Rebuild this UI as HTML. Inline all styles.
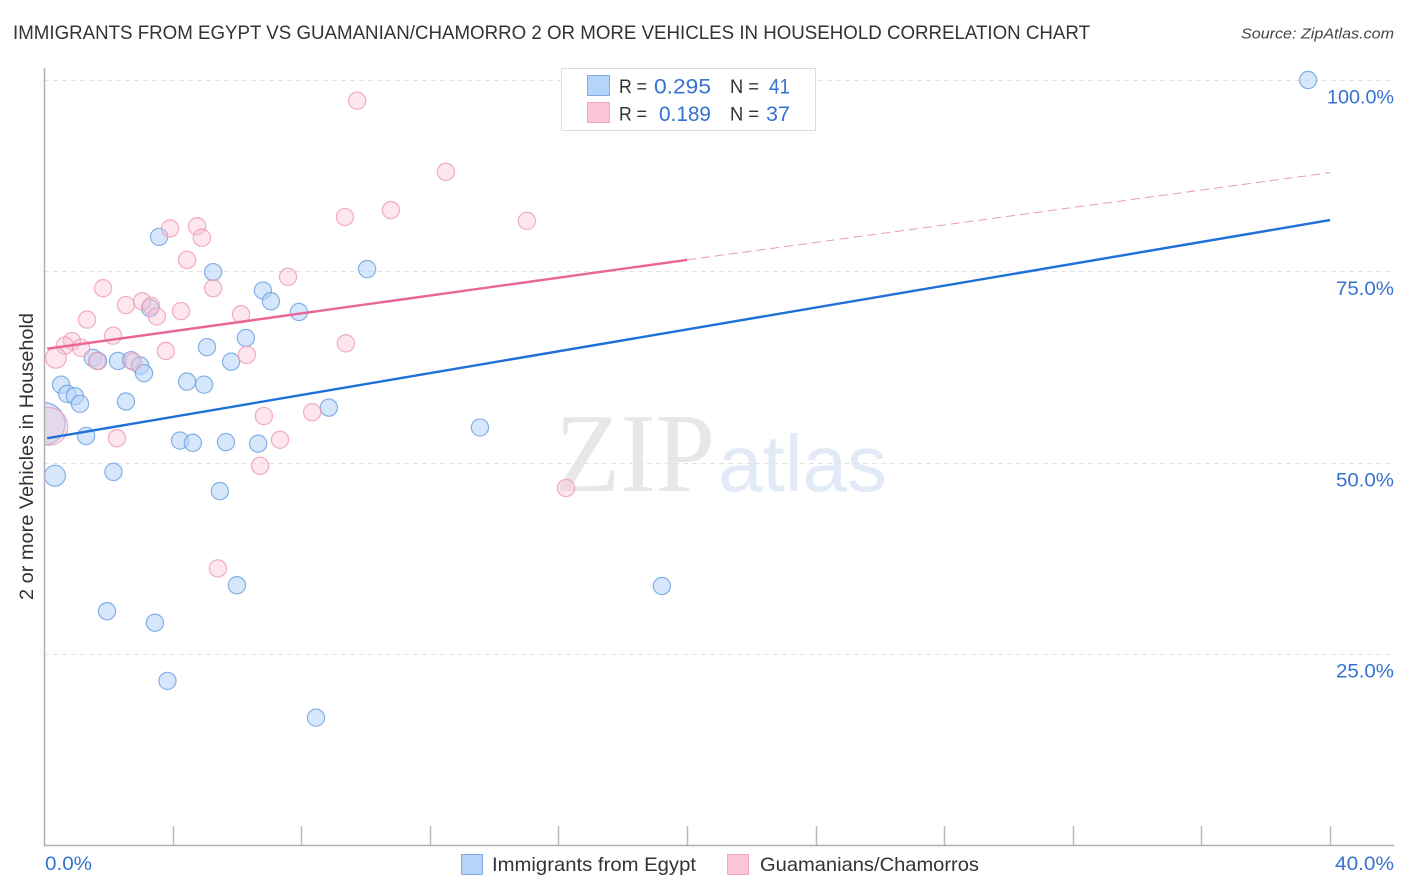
<!DOCTYPE html>
<html>
<head>
<meta charset="utf-8">
<title>Immigrants from Egypt vs Guamanian/Chamorro correlation chart</title>
<style>
html,body{margin:0;padding:0;background:#fff;}
svg{display:block;font-family:"Liberation Sans",sans-serif;}
</style>
</head>
<body>
<svg id="chart" width="1406" height="892" viewBox="0 0 1406 892">
  <defs><clipPath id="plot-clip"><rect x="44" y="60" width="1350" height="785"/></clipPath></defs>
  <text x="13" y="39" font-size="19.5" fill="#333" textLength="1077" lengthAdjust="spacingAndGlyphs">IMMIGRANTS FROM EGYPT VS GUAMANIAN/CHAMORRO 2 OR MORE VEHICLES IN HOUSEHOLD CORRELATION CHART</text>
  <text x="1241" y="38.5" font-size="15" font-style="italic" fill="#444" textLength="153" lengthAdjust="spacingAndGlyphs">Source: ZipAtlas.com</text>
  <g>
    <text x="555" y="491" font-size="112" fill="#e7e7e7" font-family="'Liberation Serif',serif" textLength="160" lengthAdjust="spacingAndGlyphs">ZIP</text>
    <text x="718" y="491" font-size="80" fill="#e2eaf8" textLength="169" lengthAdjust="spacingAndGlyphs">atlas</text>
  </g>
  <g id="grid"></g>
  <g id="points" clip-path="url(#plot-clip)"></g>
  <rect x="0" y="60" width="44" height="800" fill="#fff"/>
  <g id="axes"></g>
  <g id="trends"></g>
  <g id="labels"></g>
  <text transform="translate(33,456.5) rotate(-90)" text-anchor="middle" font-size="19" fill="#333" textLength="287" lengthAdjust="spacingAndGlyphs">2 or more Vehicles in Household</text>

  <g>
    <rect x="561.5" y="68.5" width="254" height="62" fill="#fff" stroke="#dcdcdc"/>
    <rect x="587.5" y="75.5" width="22" height="20" fill="#b5d4fa" stroke="#80abe0"/>
    <rect x="587.5" y="102.5" width="22" height="20" fill="#fcc5d6" stroke="#f2a9c0"/>
    <g font-size="19.5" fill="#333">
      <text x="619" y="93" textLength="28" lengthAdjust="spacingAndGlyphs">R =</text>
      <text x="730" y="93" textLength="29" lengthAdjust="spacingAndGlyphs">N =</text>
      <text x="619" y="120.5" textLength="28" lengthAdjust="spacingAndGlyphs">R =</text>
      <text x="730" y="120.5" textLength="29" lengthAdjust="spacingAndGlyphs">N =</text>
    </g>
    <g font-size="21.5" fill="#3572d2">
      <text x="654" y="93.5" textLength="57" lengthAdjust="spacingAndGlyphs">0.295</text>
      <text x="769" y="93.5" textLength="21" lengthAdjust="spacingAndGlyphs">41</text>
      <text x="659" y="121" textLength="52" lengthAdjust="spacingAndGlyphs">0.189</text>
      <text x="766" y="121" textLength="24" lengthAdjust="spacingAndGlyphs">37</text>
    </g>
  </g>

  <g>
    <g>
      <rect x="461.5" y="854.5" width="21" height="20" fill="#b5d4fa" stroke="#80abe0"/>
      <text x="492" y="871" font-size="19.5" fill="#333" textLength="204" lengthAdjust="spacingAndGlyphs">Immigrants from Egypt</text>
    </g>
    <g>
      <rect x="727.5" y="854.5" width="21" height="20" fill="#fcc5d6" stroke="#f2a9c0"/>
      <text x="760" y="871" font-size="19.5" fill="#333" textLength="219" lengthAdjust="spacingAndGlyphs">Guamanians/Chamorros</text>
    </g>
  </g>
</svg>
<script>
// Chart data (percent values)
var egyptX = [39.32,3.58,5.26,10.05,6.81,7.06,7.93,3.30,6.28,5.07,5.82,1.52,1.68,2.30,2.71,2.99,3.11,4.45,4.98,0.53,0.72,0.96,1.12,2.55,8.86,13.56,1.31,4.23,4.63,5.66,6.66,2.16,0.34,5.47,6.00,19.22,1.96,3.45,3.84,8.46,0.00];
var egyptY = [100,79.5,74.9,75.3,72.5,71.1,69.7,70.2,66.3,65.1,63.2,63.7,63.3,63.3,63.4,62.7,61.7,60.6,60.2,60.2,59.0,58.7,57.7,58.0,57.2,54.6,53.5,52.9,52.6,52.7,52.5,48.8,48.3,46.3,34.0,33.9,30.6,29.1,21.5,16.7,55.1];
var egyptWeight = [1,1,1,1,1,1,1,1,1,1,1,1,1,1,1,1,1,1,1,1,1,1,1,1,1,1,1,1,1,1,1,1,1.22,1,1,1,1,1,1,1,2.45];
var guamX = [9.74,12.50,10.79,9.36,15.02,3.92,4.76,4.91,4.45,7.59,1.84,5.26,2.55,3.05,3.33,3.51,4.26,6.13,1.34,2.15,9.39,0.87,0.65,1.15,0.37,3.79,6.31,1.65,2.77,6.84,8.34,2.27,7.34,6.72,16.24,5.41,0.15];
var guamY = [97.3,88.0,83.0,82.1,81.6,80.6,80.9,79.4,76.5,74.3,72.8,72.8,70.6,71.1,70.5,69.1,69.8,69.4,68.7,66.6,65.6,65.9,65.3,65.0,63.7,64.6,64.1,63.3,63.2,56.1,56.6,53.2,53.0,49.6,46.7,36.2,54.75];
var guamWeight = [1,1,1,1,1,1,1,1,1,1,1,1,1,1,1,1,1,1,1,1,1,1,1,1,1.2,1,1,1,1,1,1,1,1,1,1,1,2.2];
var egyptTrendX = [0.1,40];
var egyptTrendY = [53.2,81.7];
var guamTrendX = [0.1,20];
var guamTrendY = [64.9,76.5];
var guamDashX = [20,40];
var guamDashY = [76.5,87.9];
var yTicks = [25,50,75,100];
var yTickLabels = ["25.0%","50.0%","75.0%","100.0%"];
var xTicks = [0,4,8,12,16,20,24,28,32,36,40];
var xEndTicks = [0,40];
var xEndLabels = ["0.0%","40.0%"];

var NS = "http://www.w3.org/2000/svg";
function xScale(v){ return 44 + (v / 40) * 1286; }
function yScale(v){ return 845.5 - (v / 100) * 765.5; }
function make(tag, parent, attrs){
  var el = document.createElementNS(NS, tag);
  for (var k in attrs) el.setAttribute(k, attrs[k]);
  parent.appendChild(el);
  return el;
}
var grid = document.getElementById("grid");
var axes = document.getElementById("axes");
var points = document.getElementById("points");
var trends = document.getElementById("trends");
var labels = document.getElementById("labels");
var labelColor = "#3572d2";

yTicks.forEach(function(t, i){
  var y = Math.round(yScale(t)) + 0.5;
  var line = make("line", grid, {x1:44, x2:1394, y1:y, y2:y, stroke:"#e2e2e2", "stroke-width":1, "stroke-dasharray":"5 4"});
  
  
  var lab = make("text", labels, {x:1394, y:yScale(t) + 23.5, "text-anchor":"end", "font-size":19.5, fill:labelColor, textLength:(t === 100 ? 67 : 58), lengthAdjust:"spacingAndGlyphs"});
  lab.textContent = yTickLabels[i];
  
  
});

var yAxis = make("line", axes, {x1:44.5, x2:44.5, y1:68, y2:846, stroke:"#b0b0b0", "stroke-width":1.5});


var xAxis = make("line", axes, {x1:44, x2:1394, y1:845.5, y2:845.5, stroke:"#b0b0b0", "stroke-width":1.5});


xTicks.forEach(function(t){
  if (t === 0) return;
  var x = Math.round(xScale(t)) + 0.5;
  var tick = make("line", axes, {x1:x, x2:x, y1:826, y2:845, stroke:"#b8b8b8", "stroke-width":1.5});
  
  
});
xEndTicks.forEach(function(t, i){
  var lab = make("text", labels, i === 0
    ? {x:xScale(t) + 1, y:870, "font-size":19.5, fill:labelColor, textLength:47, lengthAdjust:"spacingAndGlyphs"}
    : {x:1394, y:870, "text-anchor":"end", "font-size":19.5, fill:labelColor, textLength:59, lengthAdjust:"spacingAndGlyphs"});
  lab.textContent = xEndLabels[i];
  
  
});

egyptX.forEach(function(v, i){
  var c = make("circle", points, {cx:xScale(v), cy:yScale(egyptY[i]), r:8.6 * egyptWeight[i], fill:"#b5d4fa", "fill-opacity":0.55, stroke:"#6a9fe0", "stroke-opacity":0.8, "stroke-width":1.2});
  
  
});
guamX.forEach(function(v, i){
  var c = make("circle", points, {cx:xScale(v), cy:yScale(guamY[i]), r:8.6 * guamWeight[i], fill:"#fbc3d4", "fill-opacity":0.42, stroke:"#ee9ab5", "stroke-opacity":0.8, "stroke-width":1.2});
  
  
});

function trend(xs, ys, attrs){
  var l = make("line", trends, {x1:xScale(xs[0]), y1:yScale(ys[0]), x2:xScale(xs[1]), y2:yScale(ys[1])});
  for (var k in attrs) l.setAttribute(k, attrs[k]);
  return l;
}
var t1 = trend(egyptTrendX, egyptTrendY, {stroke:"#1f6fd8", "stroke-width":2.4});


var t2 = trend(guamTrendX, guamTrendY, {stroke:"#e8659a", "stroke-width":2.4});


var t3 = trend(guamDashX, guamDashY, {stroke:"#eb9ab4", "stroke-width":1, "stroke-dasharray":"9 5"});


</script>
</body>
</html>
